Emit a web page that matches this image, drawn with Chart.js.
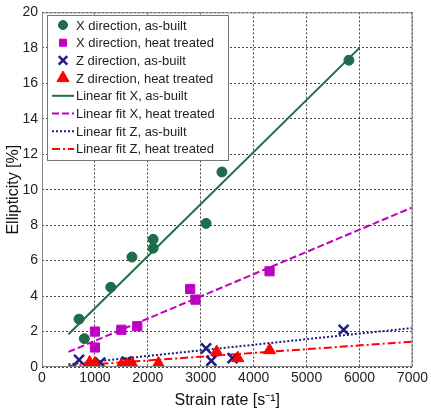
<!DOCTYPE html>
<html>
<head>
<meta charset="utf-8">
<script src="https://cdn.jsdelivr.net/npm/chart.js@4"></script>
<style>
html, body { margin: 0; padding: 0; background: #fff; }
</style>
</head>
<body>
<canvas id="myChart" width="431" height="410"></canvas>
<script>
// pontos medidos
var xAsBuiltRate = [700, 800, 1300, 1700, 2100, 2100, 3100, 3400, 5800]
var xAsBuiltEll = [2.7, 1.6, 4.5, 6.2, 7.2, 6.7, 8.1, 11.0, 17.3]
var xHeatRate = [1000, 1000, 1500, 1800, 2800, 2900, 4300]
var xHeatEll = [2.0, 1.1, 2.1, 2.3, 4.4, 3.8, 5.4]
var zAsBuiltRate = [700, 1100, 1600, 3100, 3200, 3600, 5700]
var zAsBuiltEll = [0.4, 0.25, 0.3, 1.05, 0.35, 0.5, 2.1]
var zHeatRate = [900, 1000, 1500, 1600, 1700, 2200, 3300, 3700, 4300]
var zHeatEll = [0.25, 0.2, 0.1, 0.15, 0.2, 0.2, 0.85, 0.5, 0.95]

// retas de ajuste (extremos)
var fitXAsBuiltRate = [500, 6000]
var fitXAsBuilt = [1.85, 18.0]
var fitRate = [500, 7000]
var fitXHeat = [0.85, 9.0]
var fitZAsBuilt = [0.15, 2.2]
var fitZHeat = [0.05, 1.43]

var xTicks = [0, 1000, 2000, 3000, 4000, 5000, 6000, 7000]
var yTicks = [0, 2, 4, 6, 8, 10, 12, 14, 16, 18, 20]

var labels = [
    'X direction, as-built',
    'X direction, heat treated',
    'Z direction, as-built',
    'Z direction, heat treated',
    'Linear fit X, as-built',
    'Linear fit X, heat treated',
    'Linear fit Z, as-built',
    'Linear fit Z, heat treated'
]

var green = 'rgb(30, 108, 72)'
var magenta = 'rgb(192, 0, 192)'
var navy = 'rgb(30, 30, 128)'
var red = 'rgb(255, 0, 0)'
var fontFam = '"Liberation Sans", Arial, sans-serif'

function pts(xs, ys) {
    var out = []
    for (var i = 0; i < xs.length; i++) {
        out.push({ x: xs[i], y: ys[i] })
    }
    return out
}

function fit(label, xs, ys, color, dash) {
    return {
        label: label,
        data: pts(xs, ys),
        showLine: true,
        borderColor: color,
        borderWidth: 2,
        borderDash: dash,
        pointRadius: 0,
        order: 5
    }
}

var datasets = [
    { label: labels[0], data: pts(xAsBuiltRate, xAsBuiltEll), pointStyle: 'circle', pointRadius: 5,
      backgroundColor: green, borderColor: green, borderWidth: 1, order: 1 },
    { label: labels[1], data: pts(xHeatRate, xHeatEll), pointStyle: 'rect', pointRadius: 6.5,
      backgroundColor: magenta, borderColor: magenta, borderWidth: 1, order: 1 },
    { label: labels[2], data: pts(zAsBuiltRate, zAsBuiltEll), pointStyle: 'crossRot', pointRadius: 7,
      backgroundColor: navy, borderColor: navy, borderWidth: 2.5, order: 1 },
    { label: labels[3], data: pts(zHeatRate, zHeatEll), pointStyle: 'triangle', pointRadius: 7,
      backgroundColor: red, borderColor: red, borderWidth: 1, order: 0 },
    fit(labels[4], fitXAsBuiltRate, fitXAsBuilt, green, []),
    fit(labels[5], fitRate, fitXHeat, magenta, [7, 3]),
    fit(labels[6], fitRate, fitZAsBuilt, navy, [2, 2]),
    fit(labels[7], fitRate, fitZHeat, red, [8, 3, 2, 3])
]

// caixa da legenda dentro do grafico + moldura
var legendBox = {
    id: 'legendBox',
    afterDraw: function (chart) {
        var ctx = chart.ctx
        var a = chart.chartArea
        ctx.save()
        ctx.setLineDash([])
        ctx.strokeStyle = '#888'
        ctx.lineWidth = 1
        ctx.strokeRect(a.left + 0.5, a.top + 0.5, a.right - a.left - 1, a.bottom - a.top - 1)

        var bx = 47, by = 15, bw = 181, bh = 145
        ctx.fillStyle = '#fff'
        ctx.fillRect(bx, by, bw, bh)
        ctx.strokeStyle = '#777'
        ctx.strokeRect(bx + 0.5, by + 0.5, bw, bh)

        ctx.font = '13px ' + fontFam
        ctx.textBaseline = 'middle'
        ctx.textAlign = 'left'
        var sizes = [4.5, 5, 6, 7]
        for (var i = 0; i < datasets.length; i++) {
            var d = datasets[i]
            var cy = by + 10 + i * 17.7
            if (i < 4) {
                ctx.fillStyle = d.backgroundColor
                ctx.strokeStyle = d.borderColor
                ctx.lineWidth = d.borderWidth
                Chart.helpers.drawPoint(ctx, { pointStyle: d.pointStyle, radius: sizes[i], borderWidth: d.borderWidth, rotation: 0 }, 63, cy)
            } else {
                ctx.beginPath()
                ctx.strokeStyle = d.borderColor
                ctx.lineWidth = 2
                ctx.setLineDash(d.borderDash)
                ctx.moveTo(52, cy)
                ctx.lineTo(74, cy)
                ctx.stroke()
                ctx.setLineDash([])
            }
            ctx.fillStyle = '#222'
            ctx.fillText(d.label, 76, cy + 1)
        }
        ctx.restore()
    }
}

function plain(v) { return String(v) }

var ctx = document.getElementById('myChart')

var myChart = new Chart(ctx, {
    type: 'scatter',
    data: { datasets: datasets },
    options: {
        responsive: false,
        animation: false,
        layout: { padding: { top: 12, right: 13, left: 0, bottom: 0 } },
        plugins: { legend: { display: false }, tooltip: { enabled: false } },
        scales: {
            x: {
                min: 0, max: 7000,
                afterBuildTicks: function (s) { s.ticks = xTicks.map(function (v) { return { value: v } }) },
                afterFit: function (s) { s.height = 43 },
                ticks: { font: { size: 14, family: fontFam }, color: '#222', padding: 3, maxRotation: 0, callback: plain },
                grid: { color: '#444', drawTicks: false },
                border: { display: false, dash: [2, 2] },
                title: { display: true, text: 'Strain rate [s⁻¹]', color: '#111',
                    font: { size: 16, family: fontFam }, padding: { top: 4, bottom: 0 } }
            },
            y: {
                min: 0, max: 20,
                afterBuildTicks: function (s) { s.ticks = yTicks.map(function (v) { return { value: v } }) },
                afterFit: function (s) { s.width = 42 },
                ticks: { font: { size: 14, family: fontFam }, color: '#222', padding: 4, callback: plain },
                grid: { color: '#444', drawTicks: false },
                border: { display: false, dash: [2, 2] },
                title: { display: true, text: 'Ellipticity [%]', color: '#111',
                    font: { size: 16, family: fontFam }, padding: { top: 4, bottom: 0 } }
            }
        }
    },
    plugins: [legendBox]
})
</script>
</body>
</html>
